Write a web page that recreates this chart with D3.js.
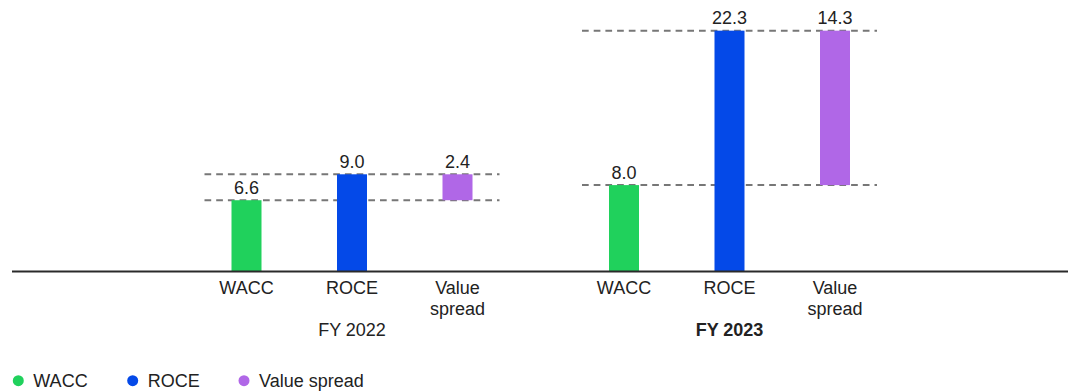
<!DOCTYPE html>
<html>
<head>
<meta charset="utf-8">
<script src="https://cdn.jsdelivr.net/npm/d3@7"></script>
<style>
  html, body { margin: 0; padding: 0; background: #fff; }
  svg { display: block; font-family: "Liberation Sans", Arial, sans-serif; }
</style>
</head>
<body>
<svg id="chart" width="1068" height="392"></svg>
<script>
// Fiscal years shown as groups
const years = ["FY 2022", "FY 2023"];
// Metrics within each year
const metrics = ["WACC", "ROCE", "Value spread"];
const metricLabels = [["WACC"], ["ROCE"], ["Value", "spread"]];
// Values per year (percent)
const waccValues = [6.6, 8.0];
const roceValues = [9.0, 22.3];
const spreadValues = [2.4, 14.3];
// Which year label is emphasised
const boldYears = ["FY 2023"];

const colors = { "WACC": "#20d15c", "ROCE": "#0449e8", "Value spread": "#b067e7" };

const svg = d3.select("#chart");

const baseY = 271.5;
const y = d3.scaleLinear().domain([0, 25]).range([baseY, baseY - 270]);
const xYear = d3.scalePoint().domain(years).range([352, 729.5]);
const xMetric = d3.scalePoint().domain(metrics).range([-105.5, 105.5]);
const barW = 30;

// Build per-year records: bars start at 0 except the spread, which floats from WACC to ROCE
const rows = years.map((yr, i) => ({
  year: yr,
  bars: [
    { metric: "WACC", y0: 0, y1: waccValues[i], label: waccValues[i] },
    { metric: "ROCE", y0: 0, y1: roceValues[i], label: roceValues[i] },
    { metric: "Value spread", y0: waccValues[i], y1: waccValues[i] + spreadValues[i], label: spreadValues[i] }
  ],
  wacc: waccValues[i],
  roce: roceValues[i]
}));

const groups = svg.selectAll("g.year").data(rows).join("g")
  .attr("class", "year")
  .attr("transform", d => `translate(${xYear(d.year)},0)`);

// Dashed reference lines at WACC and ROCE levels
groups.selectAll("line.ref").data(d => [d.wacc, d.roce]).join("line")
  .attr("class", "ref")
  .attr("x1", -147.5).attr("x2", 147.5)
  .attr("y1", v => y(v)).attr("y2", v => y(v))
  .attr("stroke", "#777").attr("stroke-width", 2)
  .attr("stroke-dasharray", "6.7,5");

// Bars
groups.selectAll("rect.bar").data(d => d.bars).join("rect")
  .attr("class", "bar")
  .attr("x", d => xMetric(d.metric) - barW / 2)
  .attr("width", barW)
  .attr("y", d => y(d.y1))
  .attr("height", d => y(d.y0) - y(d.y1))
  .attr("fill", d => colors[d.metric]);

// Value labels
groups.selectAll("text.val").data(d => d.bars).join("text")
  .attr("class", "val")
  .attr("x", d => xMetric(d.metric))
  .attr("y", d => y(d.y1) - 6.5)
  .attr("text-anchor", "middle")
  .attr("font-size", 18)
  .attr("fill", "#222")
  .text(d => d3.format(".1f")(d.label));

// Category labels under each bar
groups.selectAll("text.cat").data(metrics).join("text")
  .attr("class", "cat")
  .attr("x", m => xMetric(m))
  .attr("y", 293.5)
  .attr("text-anchor", "middle")
  .attr("font-size", 18)
  .attr("fill", "#222")
  .each(function(m, i) {
    d3.select(this).selectAll("tspan").data(metricLabels[i]).join("tspan")
      .attr("x", xMetric(m))
      .attr("dy", (t, j) => j === 0 ? 0 : 21.5)
      .text(t => t);
  });

// Year labels
groups.append("text")
  .attr("x", 0)
  .attr("y", 336)
  .attr("text-anchor", "middle")
  .attr("font-size", 18)
  .attr("font-weight", d => boldYears.includes(d.year) ? "bold" : "normal")
  .attr("fill", "#222")
  .text(d => d.year);

// Baseline
svg.append("line")
  .attr("x1", 12).attr("x2", 1068)
  .attr("y1", baseY).attr("y2", baseY)
  .attr("stroke", "#2a2a2a").attr("stroke-width", 2);

// Legend
const legendX = [18.3, 132.7, 244];
const legend = svg.selectAll("g.legend").data(metrics).join("g")
  .attr("class", "legend")
  .attr("transform", (m, i) => `translate(${legendX[i]},380.7)`);
legend.append("circle").attr("r", 5.5).attr("fill", m => colors[m]);
legend.append("text")
  .attr("x", 15)
  .attr("y", 6.3)
  .attr("font-size", 18)
  .attr("fill", "#222")
  .text(m => m);
</script>
</body>
</html>
